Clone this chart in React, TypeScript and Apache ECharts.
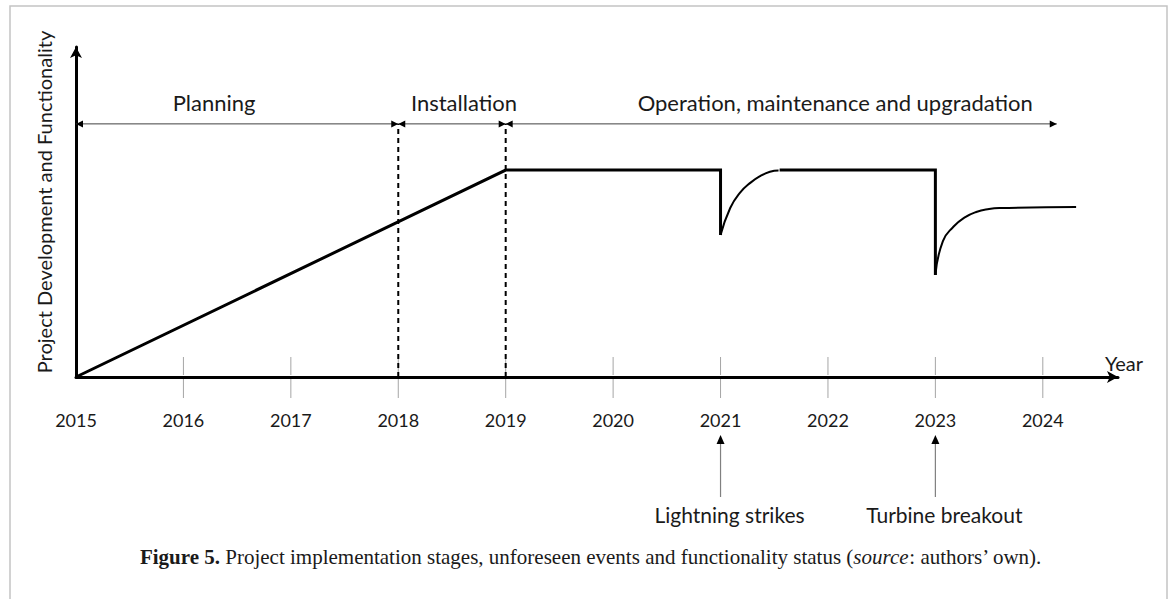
import React, { useEffect, useRef } from "react";
import * as echarts from "echarts";

// ---- data (years on x, relative functionality 0-100 on y) ----
const tickLabelYears = [2015, 2016, 2017, 2018, 2019, 2020, 2021, 2022, 2023, 2024];
const tickMarkYears = [2016, 2017, 2018, 2019, 2020, 2021, 2022, 2023, 2024];

const rampAndFlat1 = [[2015, 0], [2019, 62.7], [2021, 62.7], [2021, 43.0]];
const recovery1 = [[2021, 43.0], [2021.09, 51.2], [2021.18, 55.8], [2021.28, 58.9], [2021.37, 60.9], [2021.46, 62.2], [2021.54, 62.6]];
const flat2 = [[2021.55, 62.7], [2023, 62.7], [2023, 30.9]];
const recovery2 = [[2023, 30.9], [2023.07, 41.2], [2023.17, 45.6], [2023.27, 48.3], [2023.38, 50.0], [2023.5, 50.9], [2023.6, 51.2], [2024.31, 51.5]];

const phaseLevel = 76.7;
const phaseNames = ["Planning", "Installation", "Operation, maintenance and upgradation"];
const phaseStarts = [2015, 2018, 2019];
const phaseEnds = [2018, 2019, 2024.13];
const phaseBoundaries = [2018, 2019];

const eventYears = [2021, 2023];
const eventNames = ["Lightning strikes", "Turbine breakout"];

const SANS = "Lato, 'Open Sans', sans-serif";
const SERIF = "'Liberation Serif', serif";

export default function App() {
  const ref = useRef<HTMLDivElement>(null);

  useEffect(() => {
    if (!ref.current) return;
    const chart = echarts.init(ref.current, undefined, { renderer: "svg" });
    const phaseLabelOffsets = [-23, 12, 54];

    const option: any = {
      animation: false,
      backgroundColor: "#ffffff",
      grid: { left: 76, right: 52, top: 47, bottom: 222 },
      xAxis: {
        type: "value",
        min: 2015,
        max: 2024.7,
        interval: 1,
        name: "Year",
        nameLocation: "end",
        nameGap: 6,
        nameTextStyle: { fontFamily: SANS, fontSize: 20, color: "#1a1a1a", align: "center", verticalAlign: "bottom", padding: [0, 0, 4, 0] },
        axisLine: { show: true, symbol: ["none", "arrow"], symbolSize: [9, 11], lineStyle: { color: "#000", width: 3 } },
        axisTick: { show: false },
        splitLine: { show: false },
        axisLabel: {
          customValues: tickLabelYears,
          margin: 34,
          fontFamily: SANS,
          fontSize: 18,
          color: "#1a1a1a",
          formatter: (v: number) => String(Math.round(v)),
        },
      },
      yAxis: {
        type: "value",
        min: 0,
        max: 100,
        axisLine: { show: true, symbol: ["none", "arrow"], symbolSize: [9, 11], lineStyle: { color: "#000", width: 3 } },
        axisTick: { show: false },
        axisLabel: { show: false },
        splitLine: { show: false },
      },
      graphic: [
        { type: "rect", shape: { x: 10, y: 6, width: 1157, height: 700 }, style: { fill: "none", stroke: "#c4c4c4", lineWidth: 1.5 }, silent: true },
        {
          type: "text",
          x: 44,
          y: 202,
          rotation: Math.PI / 2,
          style: { text: "Project Development and Functionality", fontFamily: SANS, fontSize: 20, fill: "#1a1a1a", align: "center", verticalAlign: "middle" },
        },
        {
          type: "text",
          x: 591,
          y: 557,
          style: {
            text: "{b|Figure 5.} {r|Project implementation stages, unforeseen events and functionality status (}{i|source}{r|: authors\u2019 own).}",
            align: "center",
            verticalAlign: "middle",
            fontFamily: SERIF,
            fontSize: 21,
            fill: "#1a1a1a",
            rich: {
              b: { fontFamily: SERIF, fontSize: 21, fontWeight: "bold", fill: "#1a1a1a" },
              r: { fontFamily: SERIF, fontSize: 21, fill: "#1a1a1a" },
              i: { fontFamily: SERIF, fontSize: 21, fontStyle: "italic", fill: "#1a1a1a" },
            },
          },
        },
      ],
      series: [
        // tick marks crossing the axis
        {
          type: "custom",
          clip: false,
          silent: true,
          data: tickMarkYears.map((y) => [y, 0]),
          renderItem: (params: any, api: any) => {
            const p = api.coord([api.value(0), 0]);
            return {
              type: "group",
              children: [
                { type: "line", shape: { x1: p[0], y1: p[1] - 20, x2: p[0], y2: p[1] - 2 }, style: { stroke: "#a6a6a6", lineWidth: 1 } },
                { type: "line", shape: { x1: p[0], y1: p[1] + 2, x2: p[0], y2: p[1] + 21 }, style: { stroke: "#a6a6a6", lineWidth: 1 } },
              ],
            };
          },
        },
        // phase boundaries (dashed)
        ...phaseBoundaries.map((yr) => ({
          type: "line",
          silent: true,
          symbol: "none",
          data: [[yr, 0], [yr, phaseLevel]],
          lineStyle: { color: "#000", width: 2, type: [5, 4] },
        })),
        // phase arrows and names
        {
          type: "custom",
          clip: false,
          silent: true,
          data: phaseStarts.map((s, i) => [s, phaseEnds[i], i]),
          renderItem: (params: any, api: any) => {
            const i = api.value(2);
            const p1 = api.coord([api.value(0), phaseLevel]);
            const p2 = api.coord([api.value(1), phaseLevel]);
            const y = p1[1];
            return {
              type: "group",
              children: [
                { type: "line", shape: { x1: p1[0], y1: y, x2: p2[0], y2: y }, style: { stroke: "#404040", lineWidth: 1 } },
                { type: "polygon", shape: { points: [[p1[0], y], [p1[0] + 7, y - 3.5], [p1[0] + 7, y + 3.5]] }, style: { fill: "#000" } },
                { type: "polygon", shape: { points: [[p2[0], y], [p2[0] - 7, y - 3.5], [p2[0] - 7, y + 3.5]] }, style: { fill: "#000" } },
                {
                  type: "text",
                  x: (p1[0] + p2[0]) / 2 + phaseLabelOffsets[i],
                  y: y - 21,
                  style: { text: phaseNames[i], fontFamily: SANS, fontSize: 22, fill: "#1a1a1a", align: "center", verticalAlign: "middle" },
                },
              ],
            };
          },
        },
        // functionality line
        {
          type: "line",
          silent: true,
          symbol: "none",
          data: rampAndFlat1,
          lineStyle: { color: "#000", width: 3, cap: "butt", join: "miter" },
        },
        {
          type: "line",
          silent: true,
          symbol: "none",
          smooth: 0.5,
          data: recovery1,
          lineStyle: { color: "#000", width: 2 },
        },
        {
          type: "line",
          silent: true,
          symbol: "none",
          data: flat2,
          lineStyle: { color: "#000", width: 3, cap: "butt", join: "miter" },
        },
        {
          type: "line",
          silent: true,
          symbol: "none",
          smooth: 0.5,
          data: recovery2,
          lineStyle: { color: "#000", width: 2 },
        },
        // unforeseen events
        {
          type: "custom",
          clip: false,
          silent: true,
          data: eventYears.map((y, i) => [y, 0, i]),
          renderItem: (params: any, api: any) => {
            const i = api.value(2);
            const p = api.coord([api.value(0), 0]);
            const x = p[0];
            const base = p[1];
            return {
              type: "group",
              children: [
                { type: "line", shape: { x1: x, y1: base + 64, x2: x, y2: base + 120 }, style: { stroke: "#808080", lineWidth: 1.2 } },
                { type: "polygon", shape: { points: [[x, base + 58], [x - 4, base + 67], [x + 4, base + 67]] }, style: { fill: "#000" } },
                {
                  type: "text",
                  x: x + 9,
                  y: base + 137,
                  style: { text: eventNames[i], fontFamily: SANS, fontSize: 21, fill: "#1a1a1a", align: "center", verticalAlign: "middle" },
                },
              ],
            };
          },
        },
      ],
    };

    chart.setOption(option);
    return () => chart.dispose();
  }, []);

  return <div ref={ref} style={{ position: "absolute", left: 0, top: 0, width: 1170, height: 599 }} />;
}
